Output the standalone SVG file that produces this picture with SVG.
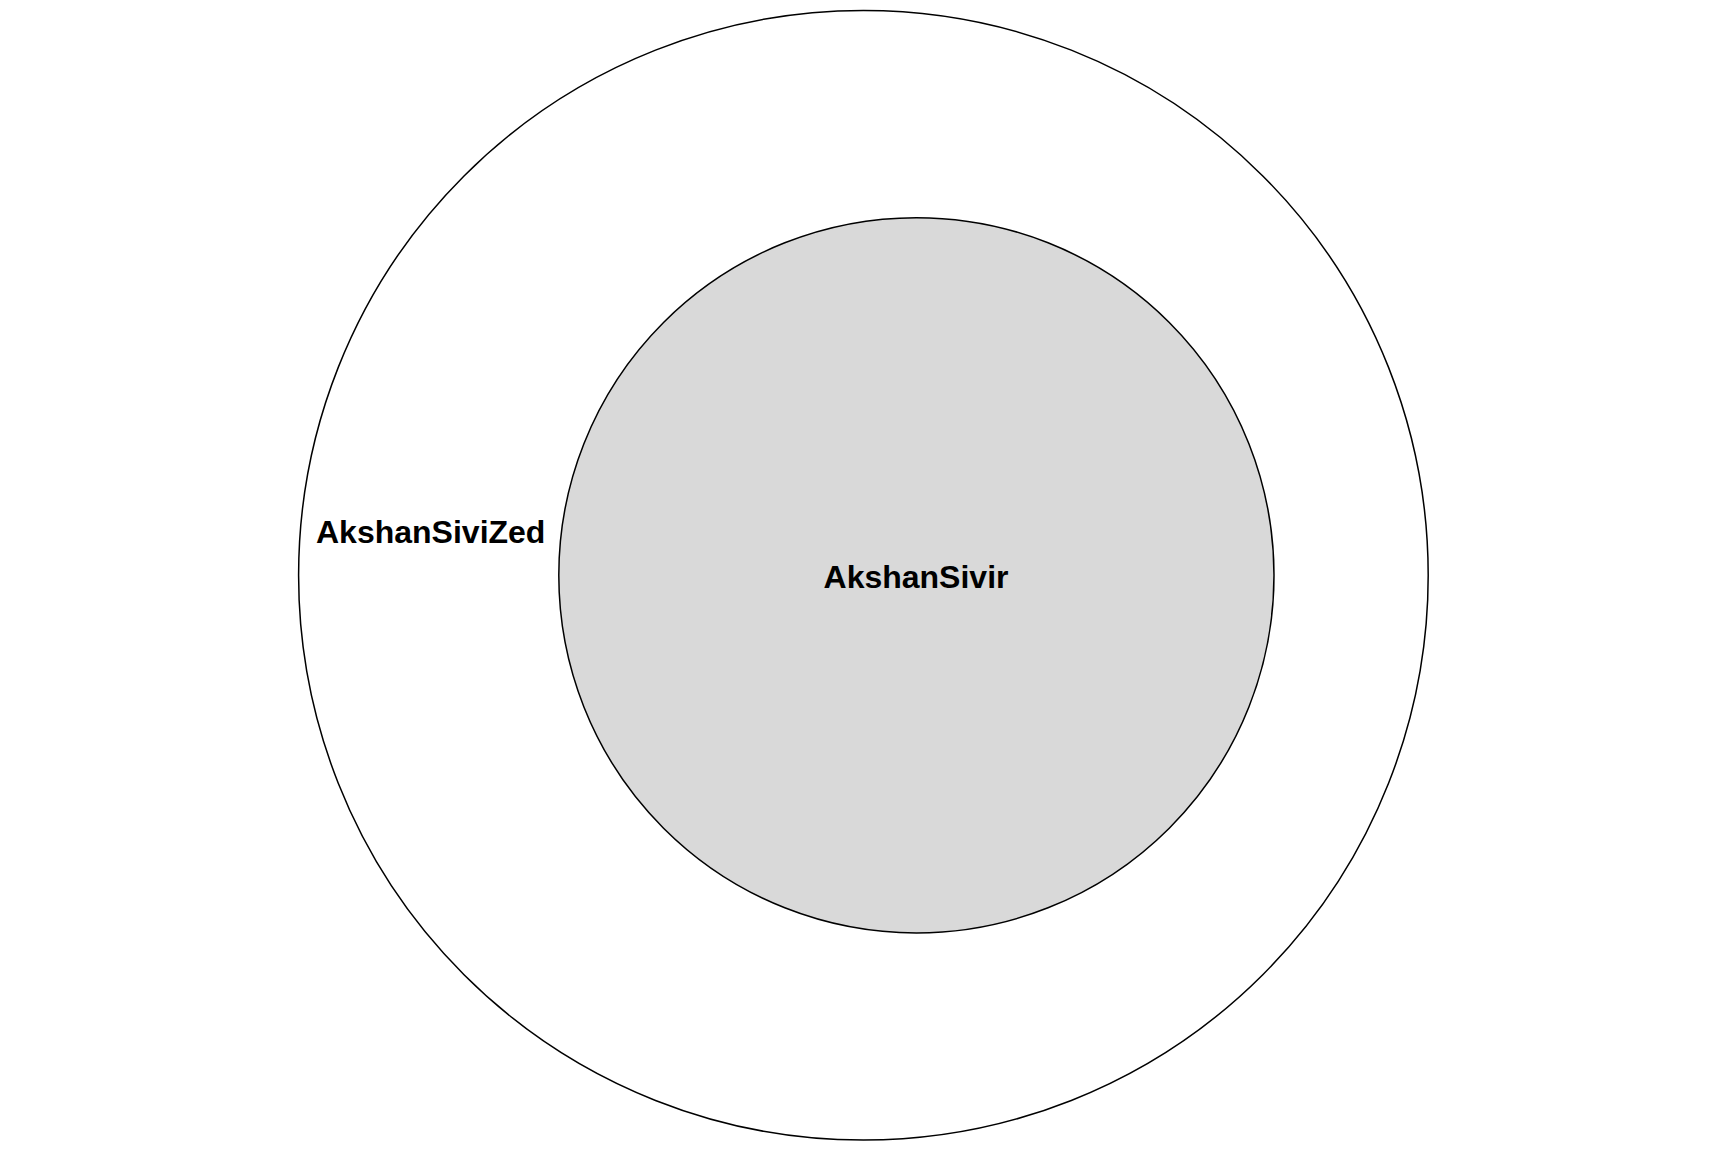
<svg xmlns="http://www.w3.org/2000/svg" width="1728" height="1152" viewBox="0 0 1728 1152">
<style>
.c{stroke:#000;stroke-width:1.5}
.t{font-family:"Liberation Sans",Arial,sans-serif;font-weight:bold;font-size:32px;fill:#000}
</style>
<rect width="1728" height="1152" fill="#fff"/>
<g id="AkshanSiviZed">
<circle class="c" cx="863.4" cy="575.3" r="564.8" fill="#fff"/>
<text class="t" x="316" y="543">AkshanSiviZed</text>
</g>
<g id="AkshanSivir">
<circle class="c" cx="916.4" cy="575.3" r="357.6" fill="#d9d9d9"/>
<text class="t" x="916" y="588" text-anchor="middle">AkshanSivir</text>
</g>
<g id="connectors"/>
</svg>
